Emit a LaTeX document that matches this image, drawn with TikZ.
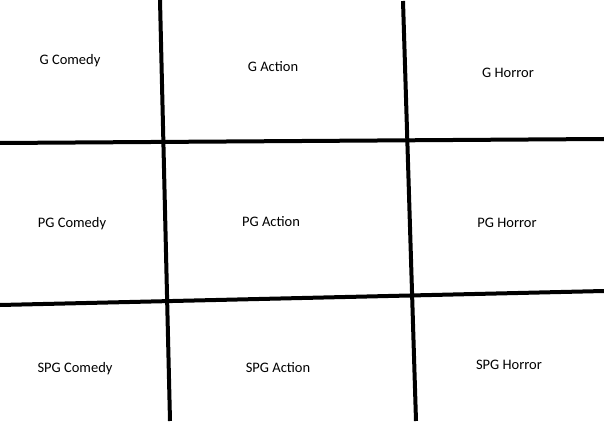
\documentclass[tikz,border=0pt]{standalone}
\usepackage{fontspec}
\setmainfont{Carlito}
\begin{document}
\begin{tikzpicture}[x=1pt,y=-1pt,
  gridline/.style={line width=4pt,black},
  cell/.style={font=\fontsize{14.5}{16}\selectfont,inner sep=0pt,anchor=center}]
\useasboundingbox[fill=white] (0,0) rectangle (604,422);
% grid line end points
\coordinate (v1t) at (160,0);
\coordinate (v1b) at (170,421);
\coordinate (v2t) at (403,1);
\coordinate (v2b) at (416,421);
\coordinate (h1l) at (0,143);
\coordinate (h1r) at (604,139);
\coordinate (h2l) at (0,305);
\coordinate (h2r) at (604,291);
\draw[gridline] (v1t) -- (v1b);
\draw[gridline] (v2t) -- (v2b);
\draw[gridline] (h1l) -- (h1r);
\draw[gridline] (h2l) -- (h2r);
% labels
\node[cell] (gc) at (70,61) {G Comedy};
\node[cell] (ga) at (273,67) {G Action};
\node[cell] (gh) at (508,73) {G Horror};
\node[cell] (pc) at (72,224) {PG Comedy};
\node[cell] (pa) at (271,222) {PG Action};
\node[cell] (ph) at (507,223) {PG Horror};
\node[cell] (sc) at (75,369) {SPG Comedy};
\node[cell] (sa) at (278,368) {SPG Action};
\node[cell] (sh) at (509,365) {SPG Horror};
\end{tikzpicture}
\end{document}
